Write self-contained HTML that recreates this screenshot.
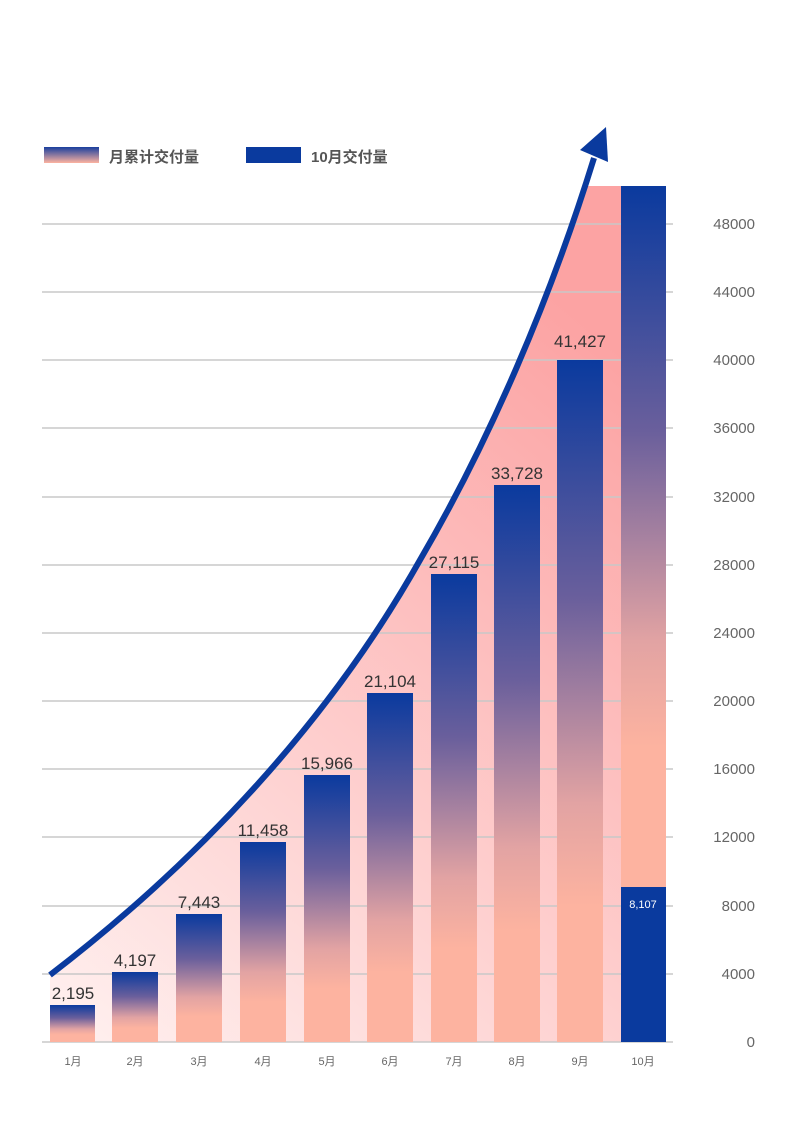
<!DOCTYPE html>
<html><head><meta charset="utf-8"><style>
html,body{margin:0;padding:0;background:#fff;}
svg{display:block;}
text{font-family:"Liberation Sans","Noto Sans CJK SC",sans-serif;}
</style></head><body>
<svg width="800" height="1138" viewBox="0 0 800 1138" xmlns="http://www.w3.org/2000/svg">
<defs>
<linearGradient id="bg" x1="0" y1="1" x2="0.6" y2="0">
<stop offset="0" stop-color="#fff1f0"/><stop offset="1" stop-color="#fca3a3"/>
</linearGradient>
<linearGradient id="bar" x1="0" y1="0" x2="0" y2="1">
<stop offset="0" stop-color="#0a3a9e"/><stop offset="0.35" stop-color="#6a5f9c"/><stop offset="0.65" stop-color="#e2a3a3"/><stop offset="0.8" stop-color="#fdb3a0"/><stop offset="1" stop-color="#fdb3a0"/>
</linearGradient>
<linearGradient id="leg" x1="0" y1="0" x2="0" y2="1">
<stop offset="0" stop-color="#1a3f9e"/><stop offset="1" stop-color="#fdb3a0"/>
</linearGradient>
</defs>
<!-- legend -->
<rect x="44" y="147" width="55" height="16" fill="url(#leg)"/>
<text x="109" y="162" font-size="15" fill="#555" font-weight="bold">月累计交付量</text>
<rect x="246" y="147" width="55" height="16" fill="#0a3a9e"/>
<text x="311" y="162" font-size="15" fill="#555" font-weight="bold">10月交付量</text>
<!-- pink area -->
<path d="M50,975 C200,860 330,720 420,560 C480,450 540,330 585,186 L666,186 L666,1042 L50,1042 Z" fill="url(#bg)"/>
<!-- grid -->
<g stroke="#c8c8c8" stroke-width="1.5">
<line x1="42" y1="1042" x2="673" y2="1042"/><line x1="42" y1="974" x2="673" y2="974"/><line x1="42" y1="906" x2="673" y2="906"/><line x1="42" y1="837" x2="673" y2="837"/><line x1="42" y1="769" x2="673" y2="769"/><line x1="42" y1="701" x2="673" y2="701"/><line x1="42" y1="633" x2="673" y2="633"/><line x1="42" y1="565" x2="673" y2="565"/><line x1="42" y1="497" x2="673" y2="497"/><line x1="42" y1="428" x2="673" y2="428"/><line x1="42" y1="360" x2="673" y2="360"/><line x1="42" y1="292" x2="673" y2="292"/><line x1="42" y1="224" x2="673" y2="224"/>
</g>
<g font-size="15" fill="#666" text-anchor="end">
<text x="755" y="1047">0</text><text x="755" y="979">4000</text><text x="755" y="911">8000</text><text x="755" y="842">12000</text><text x="755" y="774">16000</text><text x="755" y="706">20000</text><text x="755" y="638">24000</text><text x="755" y="570">28000</text><text x="755" y="502">32000</text><text x="755" y="433">36000</text><text x="755" y="365">40000</text><text x="755" y="297">44000</text><text x="755" y="229">48000</text>
</g>
<!-- bars -->
<rect x="50" y="1005" width="45" height="37" fill="url(#bar)"/>
<rect x="112" y="972" width="46" height="70" fill="url(#bar)"/>
<rect x="176" y="914" width="46" height="128" fill="url(#bar)"/>
<rect x="240" y="842" width="46" height="200" fill="url(#bar)"/>
<rect x="304" y="775" width="46" height="267" fill="url(#bar)"/>
<rect x="367" y="693" width="46" height="349" fill="url(#bar)"/>
<rect x="431" y="574" width="46" height="468" fill="url(#bar)"/>
<rect x="494" y="485" width="46" height="557" fill="url(#bar)"/>
<rect x="557" y="360" width="46" height="682" fill="url(#bar)"/>
<rect x="621" y="186" width="45" height="701" fill="url(#bar)"/>
<rect x="621" y="887" width="45" height="155" fill="#0a3a9e"/>
<text x="643" y="908" font-size="11" fill="#fff" text-anchor="middle">8,107</text>
<g font-size="17" fill="#333" text-anchor="middle">
<text x="73" y="999">2,195</text><text x="135" y="966">4,197</text><text x="199" y="908">7,443</text><text x="263" y="836">11,458</text><text x="327" y="769">15,966</text><text x="390" y="687">21,104</text><text x="454" y="568">27,115</text><text x="517" y="479">33,728</text><text x="580" y="347">41,427</text>
</g>
<g font-size="11" fill="#666" text-anchor="middle">
<text x="73" y="1065">1月</text><text x="135" y="1065">2月</text><text x="199" y="1065">3月</text><text x="263" y="1065">4月</text><text x="327" y="1065">5月</text><text x="390" y="1065">6月</text><text x="454" y="1065">7月</text><text x="517" y="1065">8月</text><text x="580" y="1065">9月</text><text x="643" y="1065">10月</text>
</g>
<!-- arrow -->
<path d="M50,975 C200,860 330,720 420,560 C490,440 550,300 594,158" fill="none" stroke="#0a3a9e" stroke-width="6"/>
<path d="M580,150 L606,127 L608,162 Z" fill="#0a3a9e"/>
</svg>
</body></html>
